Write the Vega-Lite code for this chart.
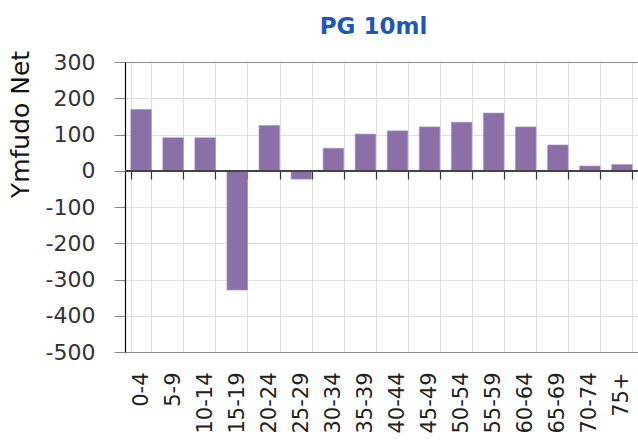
{
  "$schema": "https://vega.github.io/schema/vega-lite/v6.json",
  "width": 513,
  "height": 290,
  "autosize": {"type": "none"},
  "padding": {"left": 125, "top": 62, "right": 0, "bottom": 89},
  "background": "white",
  "config": {"view": {"stroke": null}, "font": "DejaVu Sans"},
  "title": {
    "text": "PG 10ml",
    "font": "DejaVu Sans",
    "fontSize": 23,
    "fontWeight": "bold",
    "color": "#2058b0",
    "anchor": "middle",
    "baseline": "alphabetic",
    "offset": 24,
    "dx": -8,
    "dy": 31
  },
  "data": {
    "values": [
      {"age": "0-4", "value": 169},
      {"age": "5-9", "value": 91},
      {"age": "10-14", "value": 91},
      {"age": "15-19", "value": -329},
      {"age": "20-24", "value": 125},
      {"age": "25-29", "value": -23},
      {"age": "30-34", "value": 62},
      {"age": "35-39", "value": 101},
      {"age": "40-44", "value": 110},
      {"age": "45-49", "value": 121},
      {"age": "50-54", "value": 134},
      {"age": "55-59", "value": 159},
      {"age": "60-64", "value": 121},
      {"age": "65-69", "value": 71},
      {"age": "70-74", "value": 13},
      {"age": "75+", "value": 17}
    ]
  },
  "resolve": {"axis": {"x": "independent", "y": "independent"}},
  "layer": [
    {
      "mark": {"type": "bar", "color": "#8b6fa7", "stroke": "#a58fc0", "strokeWidth": 0.6},
      "encoding": {
        "x": {
          "field": "age",
          "type": "nominal",
          "sort": null,
          "scale": {"paddingInner": 0.36, "paddingOuter": 0.18},
          "axis": {
            "orient": "bottom",
            "title": null,
            "domain": false,
            "ticks": false,
            "grid": true,
            "gridColor": "#dedede",
            "tickBand": "extent",
            "labelAngle": -90,
            "labelAlign": "right",
            "labelBaseline": "middle",
            "labelPadding": 20,
            "labelFontSize": 21,
            "labelFont": "DejaVu Sans",
            "labelColor": "#222222",
            "labelOverlap": false
          }
        },
        "y": {
          "field": "value",
          "type": "quantitative",
          "scale": {"domain": [-500, 300], "nice": false, "zero": false},
          "axis": {
            "title": "Ymfudo Net",
            "titleFont": "DejaVu Sans",
            "titleFontSize": 25,
            "titleFontWeight": "normal",
            "titleColor": "#111111",
            "titleX": -105,
            "titleY": 62,
            "titleAlign": "center",
            "titleBaseline": "middle",
            "titleAngle": -90,
            "values": [300, 200, 100, 0, -100, -200, -300, -400, -500],
            "labelExpr": "toString(datum.value)",
            "labelOverlap": false,
            "labelFont": "DejaVu Sans",
            "labelFontSize": 22,
            "labelColor": "#333333",
            "labelPadding": 19,
            "tickSize": 11,
            "tickColor": "#888888",
            "domainColor": "#000000",
            "domainWidth": 1.2,
            "grid": true,
            "gridColor": {
              "condition": {"test": "datum.value === 300 || datum.value === -500", "value": "#8c8c8c"},
              "value": "#e0e0e0"
            }
          }
        }
      }
    },
    {
      "mark": {"type": "rule", "color": "#444444", "strokeWidth": 1.2},
      "encoding": {"y": {"datum": 0, "axis": null}}
    },
    {
      "mark": {"type": "bar", "opacity": 0},
      "encoding": {
        "x": {
          "field": "age",
          "type": "nominal",
          "sort": null,
          "axis": {
            "orient": "bottom",
            "offset": -181,
            "title": null,
            "labels": false,
            "domain": false,
            "grid": false,
            "ticks": true,
            "tickBand": "extent",
            "tickSize": 8,
            "tickColor": "#333333",
            "tickWidth": 1.2
          }
        },
        "y": {"field": "value", "type": "quantitative", "axis": null}
      }
    }
  ]
}
